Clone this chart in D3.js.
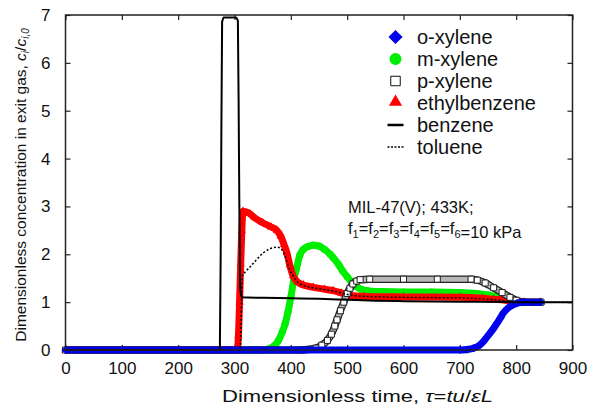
<!DOCTYPE html>
<html lang="en">
<head>
<meta charset="UTF-8">
<title>Exit gas breakthrough - MIL-47(V)</title>
<script src="https://cdn.jsdelivr.net/npm/d3@7"></script>
<style>
  body { margin: 0; background: #fff; }
  svg text { font-family: "Liberation Sans", Arial, Helvetica, sans-serif; fill: #111; }
</style>
</head>
<body>
<script>
// series: [tau, c/c0]
var oXylene = [[0,0],[700,0],[713,0.01],[725,0.04],[735,0.1],[742,0.18],[748,0.27],[758,0.42],[766,0.56],[772,0.67],[777,0.77],[786,0.88],[794,0.94],[802,0.98],[814,1.0],[844,1.0]]
var mXylene = [[0,0],[350,0],[360,0.02],[370,0.08],[378,0.2],[385,0.38],[390,0.55],[395,0.8],[400,1.1],[405,1.45],[410,1.7],[416,1.98],[422,2.1],[430,2.16],[440,2.19],[450,2.17],[460,2.1],[470,2.0],[475,1.93],[485,1.78],[492,1.65],[500,1.53],[508,1.42],[517,1.32],[525,1.27],[535,1.24],[560,1.22],[600,1.21],[650,1.21],[700,1.2],[730,1.18],[750,1.15],[770,1.1],[790,1.04],[800,1.01],[814,1.0],[844,1.0]]
var pXylene = [[0,0],[420,0],[430,0.01],[445,0.04],[455,0.1],[465,0.2],[472,0.33],[478,0.5],[482,0.63],[488,0.82],[494,1.0],[500,1.18],[505,1.29],[510,1.38],[517,1.44],[523,1.47],[540,1.48],[600,1.48],[660,1.48],[720,1.48],[731,1.46],[745,1.4],[760,1.3],[775,1.2],[789,1.1],[800,1.04],[814,1.0],[844,1.0]]
var ethylbenzene = [[0,0],[305,0],[307,0.3],[309,1.0],[311,1.8],[313,2.5],[315,2.9],[327,2.85],[335,2.77],[350,2.66],[365,2.57],[375,2.5],[382,2.38],[388,2.2],[393,2.03],[398,1.78],[404,1.55],[412,1.42],[422,1.36],[440,1.31],[460,1.27],[475,1.24],[490,1.19],[505,1.14],[530,1.12],[600,1.11],[700,1.1],[740,1.08],[760,1.06],[780,1.04],[800,1.01],[814,1.0],[844,1.0]]
var benzene = [[0,0],[274,0],[276,3],[278,6.85],[281,6.95],[302,6.95],[306,6.88],[308,4],[310,1.3],[313,1.1],[350,1.09],[400,1.08],[450,1.07],[500,1.05],[550,1.03],[600,1.02],[700,1.01],[800,1.0],[900,1.0]]
var toluene = [[0,0],[310,0],[314,1.55],[319,1.63],[327,1.73],[340,1.9],[351,2.03],[362,2.11],[375,2.15],[382,2.12],[388,2.02],[393,1.85],[398,1.68],[404,1.55],[412,1.42],[425,1.34],[450,1.28],[480,1.22],[505,1.15],[530,1.12],[600,1.1],[700,1.09],[750,1.06],[780,1.03],[800,1.0],[900,1.0]]

var xTicks = [0,100,200,300,400,500,600,700,800,900]
var yTicks = [0,1,2,3,4,5,6,7]
var legendNames = ["o-xylene","m-xylene","p-xylene","ethylbenzene","benzene","toluene"]

var W = 594, H = 409
var svg = d3.select("body").append("svg").attr("width", W).attr("height", H)

var x = d3.scaleLinear().domain([0,900]).range([65.5,572.5])
var y = d3.scaleLinear().domain([0,7]).range([350,15])

// axes, ticks point inward on all four sides
svg.append("g").attr("transform","translate(0,350)")
  .call(d3.axisBottom(x).tickValues(xTicks).tickSize(-5).tickSizeOuter(0).tickPadding(12))
svg.append("g").attr("transform","translate(0,15)")
  .call(d3.axisTop(x).tickValues(xTicks).tickSize(-5).tickSizeOuter(0).tickFormat(""))
svg.append("g").attr("transform","translate(65.5,0)")
  .call(d3.axisLeft(y).tickValues(yTicks).tickFormat(d3.format("d")).tickSize(-5).tickSizeOuter(0).tickPadding(15))
svg.append("g").attr("transform","translate(572.5,0)")
  .call(d3.axisRight(y).tickValues(yTicks).tickSize(-5).tickSizeOuter(0).tickFormat(""))
svg.selectAll(".domain").remove()
svg.selectAll(".tick line").attr("stroke","#222").attr("stroke-width",1.2)
svg.selectAll(".tick text").attr("font-size",17).attr("font-family",null).attr("fill","#111")

var line = d3.line().x(function(d){return x(d[0])}).y(function(d){return y(d[1])}).curve(d3.curveMonotoneX)

var diamond = d3.symbol().type(d3.symbolSquare)
var circle = d3.symbol().type(d3.symbolCircle)
var square = d3.symbol().type(d3.symbolSquare)
var tri = d3.symbol().type(d3.symbolTriangle)

// green circles
svg.append("path").attr("d", line(mXylene)).attr("fill","none").attr("stroke","#00ee00").attr("stroke-width",7).attr("stroke-linejoin","round")
svg.selectAll(".m").data(mXylene).enter().append("path")
  .attr("d", circle.size(40)()).attr("fill","#00ee00")
  .attr("transform", function(d){return "translate("+x(d[0])+","+y(d[1])+")"})

// red triangles
svg.append("path").attr("d", line(ethylbenzene)).attr("fill","none").attr("stroke","#ff0000").attr("stroke-width",7).attr("stroke-linejoin","round")
svg.selectAll(".e").data(ethylbenzene).enter().append("path")
  .attr("d", tri.size(30)()).attr("fill","#ff0000")
  .attr("transform", function(d){return "translate("+x(d[0])+","+y(d[1])+")"})

// open squares
svg.append("path").attr("d", line(pXylene)).attr("fill","none").attr("stroke","#222").attr("stroke-width",7.5).attr("stroke-linejoin","round")
svg.append("path").attr("d", line(pXylene)).attr("fill","none").attr("stroke","#b8b8b8").attr("stroke-width",5).attr("stroke-linejoin","round")
svg.selectAll(".p").data(pXylene).enter().append("path")
  .attr("d", square.size(36)()).attr("fill","#fff").attr("stroke","#222").attr("stroke-width",1)
  .attr("transform", function(d){return "translate("+x(d[0])+","+y(d[1])+")"})

// blue diamonds
svg.append("path").attr("d", line(oXylene)).attr("fill","none").attr("stroke","#0000ee").attr("stroke-width",7).attr("stroke-linejoin","round")
svg.selectAll(".o").data(oXylene).enter().append("path")
  .attr("d", diamond.size(34)()).attr("fill","#0000ee")
  .attr("transform", function(d){return "translate("+x(d[0])+","+y(d[1])+") rotate(45)"})

// lines
svg.append("path").attr("d", line(benzene)).attr("fill","none").attr("stroke","#000").attr("stroke-width",2)
svg.append("path").attr("d", line(toluene)).attr("fill","none").attr("stroke","#000").attr("stroke-width",1.5).attr("stroke-dasharray","2,2")

// frame
svg.append("rect").attr("x",65.5).attr("y",15).attr("width",507).attr("height",335)
  .attr("fill","none").attr("stroke","#222").attr("stroke-width",1.5)

// legend
var lg = svg.append("g")
var rows = [37,59,81,103,125,147]
var lx = 395.5
lg.append("path").attr("d", diamond.size(100)()).attr("fill","#0000ee").attr("transform","translate("+lx+","+rows[0]+") rotate(45)")
lg.append("path").attr("d", circle.size(113)()).attr("fill","#00ee00").attr("transform","translate("+lx+","+rows[1]+")")
lg.append("path").attr("d", square.size(90)()).attr("fill","#fff").attr("stroke","#111").attr("stroke-width",1).attr("transform","translate("+lx+","+rows[2]+")")
lg.append("path").attr("d", tri.size(75)()).attr("fill","#ff0000").attr("transform","translate("+lx+","+(rows[3]-1)+")")
lg.append("line").attr("x1",lx-8).attr("x2",lx+8).attr("y1",rows[4]).attr("y2",rows[4]).attr("stroke","#000").attr("stroke-width",2.5)
lg.append("line").attr("x1",lx-8).attr("x2",lx+8).attr("y1",rows[5]).attr("y2",rows[5]).attr("stroke","#000").attr("stroke-width",1.5).attr("stroke-dasharray","2,1.5")
lg.selectAll("text").data(legendNames).enter().append("text")
  .attr("x",417).attr("y",function(d,i){return rows[i]}).attr("dy","0.35em")
  .attr("font-size",20).text(function(d){return d})

// annotation
svg.append("text").attr("x",348).attr("y",213).attr("font-size",16.5).text("MIL-47(V); 433K;")
var ann2 = svg.append("text").attr("x",348).attr("y",234).attr("font-size",16.5)
for (var i = 1; i <= 6; i++) {
  ann2.append("tspan").attr("dy", i === 1 ? 0 : -4).text((i === 1 ? "" : "=") + "f")
  ann2.append("tspan").attr("dy",4).attr("font-size",11).text(i)
}
ann2.append("tspan").text("=10 kPa")

// axis titles
var xt = svg.append("text").attr("x",222).attr("y",402).attr("font-size",16.5)
  .attr("textLength",271).attr("lengthAdjust","spacingAndGlyphs")
xt.append("tspan").text("Dimensionless time, ")
xt.append("tspan").attr("font-style","italic").text("τ")
xt.append("tspan").text("=")
xt.append("tspan").attr("font-style","italic").text("tu")
xt.append("tspan").text("/")
xt.append("tspan").attr("font-style","italic").text("εL")

var yt = svg.append("text").attr("transform","translate(26,185) rotate(-90)").attr("text-anchor","middle").attr("font-size",15.5)
yt.append("tspan").text("Dimensionless concentration in exit gas, ")
yt.append("tspan").attr("font-style","italic").text("c")
yt.append("tspan").attr("dy",3).attr("font-size",10).attr("font-style","italic").text("i")
yt.append("tspan").attr("dy",-3).text("/")
yt.append("tspan").attr("font-style","italic").text("c")
yt.append("tspan").attr("dy",3).attr("font-size",10).attr("font-style","italic").text("i,0")
</script>
</body>
</html>
